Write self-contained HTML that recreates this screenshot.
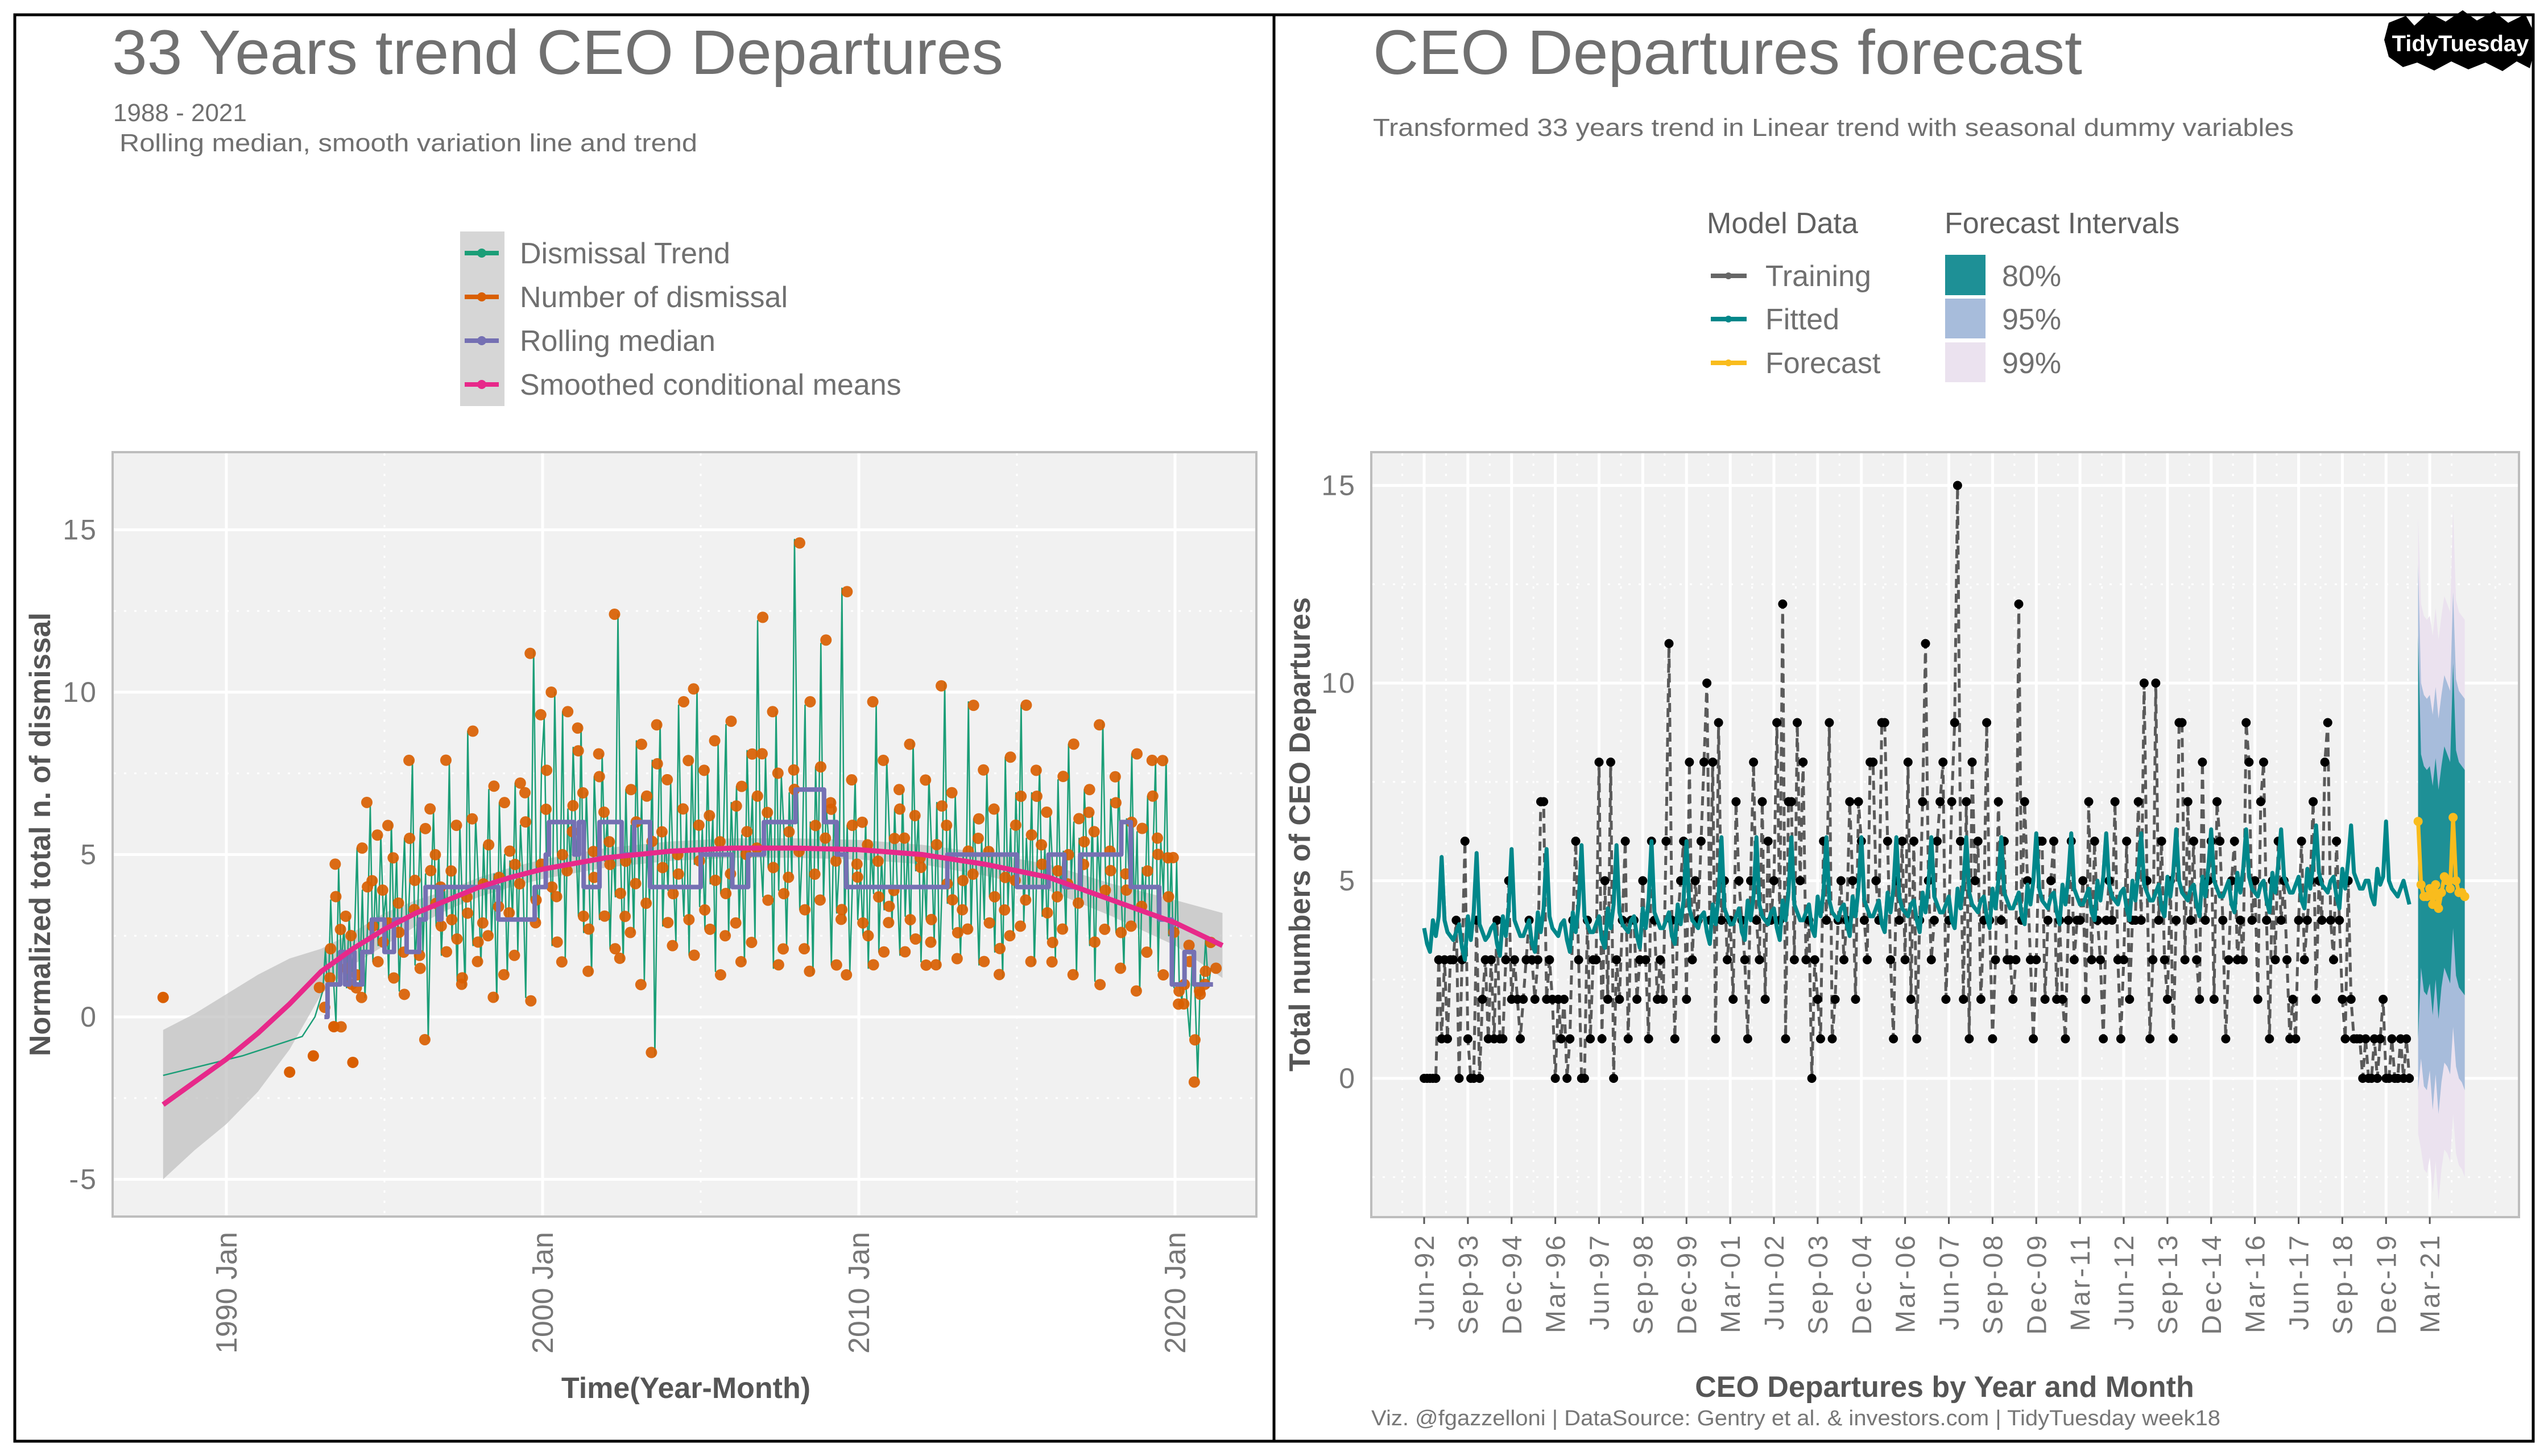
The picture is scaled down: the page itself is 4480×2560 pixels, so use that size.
<!DOCTYPE html>
<html><head><meta charset="utf-8">
<style>
html,body{margin:0;padding:0;background:#fff;}
svg{display:block;font-family:"Liberation Sans",sans-serif;}
</style></head>
<body>
<svg id="root" width="4480" height="2560" viewBox="0 0 4480 2560" xmlns="http://www.w3.org/2000/svg">
<rect x="0" y="0" width="4480" height="2560" fill="#fff"/>
<!-- panel frames -->
<rect x="26" y="26" width="2214" height="2508" fill="none" stroke="#000" stroke-width="5"/>
<rect x="2240" y="26" width="2214" height="2508" fill="none" stroke="#000" stroke-width="5"/>

<!-- LEFT TITLES -->
<text x="197" y="130" font-size="110" fill="#707070" textLength="1567" lengthAdjust="spacingAndGlyphs">33 Years trend CEO Departures</text>
<text x="199" y="213" font-size="44" fill="#707070">1988 - 2021</text>
<text x="210" y="266" font-size="44" fill="#707070" textLength="1016" lengthAdjust="spacingAndGlyphs">Rolling median, smooth variation line and trend</text>

<!-- LEFT LEGEND -->
<g>
<rect x="809" y="407" width="78" height="307" fill="#d6d6d6"/>
<g>
<line x1="817" y1="445" x2="877" y2="445" stroke="#1b9e77" stroke-width="8"/><circle cx="847" cy="445" r="8" fill="#1b9e77"/>
<text x="914" y="463" font-size="52" fill="#707070">Dismissal Trend</text></g>
<g>
<line x1="817" y1="522" x2="877" y2="522" stroke="#d95f02" stroke-width="8"/><circle cx="847" cy="522" r="8" fill="#d95f02"/>
<text x="914" y="540" font-size="52" fill="#707070">Number of dismissal</text></g>
<g>
<line x1="817" y1="599" x2="877" y2="599" stroke="#7570b3" stroke-width="8"/><circle cx="847" cy="599" r="8" fill="#7570b3"/>
<text x="914" y="617" font-size="52" fill="#707070">Rolling median</text></g>
<g>
<line x1="817" y1="676" x2="877" y2="676" stroke="#e7298a" stroke-width="8"/><circle cx="847" cy="676" r="8" fill="#e7298a"/>
<text x="914" y="694" font-size="52" fill="#707070">Smoothed conditional means</text></g>
</g>

<!-- LEFT PLOT -->
<rect x="198" y="795" width="2011" height="1344" fill="#f1f1f1" stroke="#bdbdbd" stroke-width="4"/>
<g id="leftGrid"></g>
<g id="leftMarks"></g>
<g id="leftAxes"></g>
<text transform="translate(88,1467) rotate(-90)" text-anchor="middle" font-size="52" font-weight="bold" fill="#555">Normalized total n. of dismissal</text>
<text x="1206" y="2458" text-anchor="middle" font-size="52" font-weight="bold" fill="#555">Time(Year-Month)</text>

<!-- RIGHT TITLES -->
<text x="2414" y="130" font-size="110" fill="#707070" textLength="1247" lengthAdjust="spacingAndGlyphs">CEO Departures forecast</text>
<text x="2414" y="239" font-size="44" fill="#707070" textLength="1619" lengthAdjust="spacingAndGlyphs">Transformed 33 years trend in Linear trend with seasonal dummy variables</text>

<!-- badge -->
<g>
<polygon points="4200,40 4230,28 4245,45 4270,22 4300,38 4330,18 4355,36 4385,20 4410,40 4440,25 4452,50 4456,90 4448,120 4425,108 4400,125 4370,110 4340,122 4310,108 4280,124 4250,110 4225,118 4200,100 4192,70" fill="#000"/>
<text x="4326" y="90" text-anchor="middle" font-size="40" font-weight="bold" fill="#fff">TidyTuesday</text>
</g>

<!-- RIGHT LEGEND -->
<g>
<text x="3001" y="410" font-size="52" fill="#606060">Model Data</text>
<text x="3419" y="410" font-size="52" fill="#606060">Forecast Intervals</text>
<g><line x1="3008" y1="485" x2="3071" y2="485" stroke="#666" stroke-width="8"/><circle cx="3039" cy="485" r="6" fill="#666"/><text x="3104" y="503" font-size="52" fill="#707070">Training</text></g>
<g><line x1="3008" y1="561" x2="3071" y2="561" stroke="#00878a" stroke-width="8"/><circle cx="3039" cy="561" r="6" fill="#00878a"/><text x="3104" y="579" font-size="52" fill="#707070">Fitted</text></g>
<g><line x1="3008" y1="638" x2="3071" y2="638" stroke="#f9bc1d" stroke-width="8"/><circle cx="3039" cy="638" r="6" fill="#f9bc1d"/><text x="3104" y="656" font-size="52" fill="#707070">Forecast</text></g>
<g><rect x="3420" y="448" width="71" height="71" fill="#1e9096"/><text x="3520" y="503" font-size="52" fill="#707070">80%</text></g>
<g><rect x="3420" y="525" width="71" height="70" fill="#a7bcdb"/><text x="3520" y="579" font-size="52" fill="#707070">95%</text></g>
<g><rect x="3420" y="602" width="71" height="70" fill="#ebe2ef"/><text x="3520" y="656" font-size="52" fill="#707070">99%</text></g>
</g>

<!-- RIGHT PLOT -->
<rect x="2411" y="795" width="2018" height="1345" fill="#f1f1f1" stroke="#bdbdbd" stroke-width="4"/>
<g id="rightGrid"></g>
<g id="rightMarks"></g>
<g id="rightAxes"></g>
<text transform="translate(2303,1467) rotate(-90)" text-anchor="middle" font-size="52" font-weight="bold" fill="#555">Total numbers of CEO Departures</text>
<text x="3419" y="2456" text-anchor="middle" font-size="52" font-weight="bold" fill="#555">CEO Departures by Year and Month</text>
<text x="2411" y="2506" font-size="38" fill="#777" textLength="1493" lengthAdjust="spacingAndGlyphs">Viz. @fgazzelloni | DataSource: Gentry et al. &amp; investors.com | TidyTuesday week18</text>
</svg>

<script>
// ---------- LEFT CHART DATA ----------
const leftYTicks = [-5, 0, 5, 10, 15];
const leftXTicks = [1990, 2000, 2010, 2020];
const leftXTickLabels = ["1990 Jan", "2000 Jan", "2010 Jan", "2020 Jan"];
const earlyDotYears = [1988.0, 1992.0, 1992.75, 1993.4, 1994.0];
const earlyDotValues = [0.6, -1.7, -1.2, -0.3, -1.4];
const earlyTrendYears = [1988.0, 1990.5, 1992.4, 1992.8];
const earlyTrendValues = [-1.8, -1.2, -0.6, 0.0];
const dismissalStart = 1993.05;
const dismissals = [
0.8,2.1,0.4,3.6,1.2,-0.2,4.6,1.5,2.8,0.9,3.1,1.4,
2.4,5.2,1.0,3.9,0.6,2.9,6.5,1.7,4.3,2.2,5.6,3.0,
3.8,1.2,6.0,2.5,4.9,0.8,3.4,5.5,2.1,4.1,7.9,1.6,
3.2,5.8,2.0,4.4,-0.7,3.6,6.3,2.8,5.1,1.9,4.0,3.1,
7.8,2.4,4.6,1.1,5.9,3.3,0.9,8.8,3.8,2.2,6.1,4.2,
1.6,5.3,3.0,7.0,2.5,4.4,0.5,6.6,3.5,5.0,1.3,4.8,
3.1,7.2,2.0,5.9,4.1,0.6,6.8,3.6,11.3,4.6,2.9,7.7,
9.2,4.0,6.5,2.2,10.0,5.1,3.6,9.4,1.8,6.4,4.5,8.3,
5.6,3.1,9.0,2.6,6.9,4.4,1.3,7.4,5.2,3.0,8.1,4.8,
6.2,2.1,5.5,3.7,12.4,4.9,1.7,7.0,3.2,5.9,2.6,8.5,
4.0,6.8,1.1,5.3,3.5,7.9,-1.2,4.6,9.1,2.8,5.7,3.9,
7.2,4.4,2.3,9.6,5.0,3.1,6.3,1.9,8.0,4.7,10.1,3.4,
5.8,2.7,7.7,4.1,6.2,1.4,8.4,3.8,5.5,9.0,2.5,6.6,
4.3,7.1,3.0,5.6,1.7,8.2,4.9,6.8,2.4,12.2,5.2,3.7,
8.0,4.6,6.4,1.5,9.4,3.9,7.4,5.7,2.2,6.9,4.3,14.7,
7.5,3.3,5.2,9.6,2.1,6.0,1.3,7.7,4.5,11.5,3.6,6.5,
5.4,1.6,6.7,3.2,4.8,13.2,2.9,5.9,1.4,4.2,7.3,3.0,
4.6,2.5,6.1,1.5,5.3,3.8,9.6,2.0,4.9,3.3,7.9,5.6,
2.8,6.4,4.0,1.9,7.0,3.1,5.4,2.4,8.5,4.5,6.2,1.7,
4.8,3.0,7.4,5.2,2.3,6.6,1.5,4.1,10.3,3.5,5.9,2.7,
6.8,4.2,1.9,5.0,3.3,9.7,2.6,6.1,4.5,1.6,5.5,3.0,
7.5,3.7,5.2,2.0,6.4,4.4,1.2,8.0,3.4,5.8,2.5,6.9,
4.1,9.6,2.9,5.5,3.6,6.9,1.6,4.7,7.7,3.1,5.3,2.4,
6.2,4.5,1.8,7.3,3.7,5.1,2.6,8.4,4.2,6.0,1.3,5.5,
3.4,7.0,4.8,2.2,6.3,1.1,5.6,3.9,9.1,4.4,2.7,6.7,
5.0,2.6,7.5,3.8,1.5,6.1,4.3,8.1,2.9,5.7,0.8,4.6,
3.3,6.8,2.1,4.9,7.9,1.4,5.4,3.7,8.0,2.5,4.9,0.9,
4.8,1.0,0.5,1.6,0.4,-0.6,2.1,0.7,-1.9,1.3,0.8,2.4,
0.9,1.5];
const medianYears = [1993.1,1993.2,1993.6,1993.75,1993.9,1994.05,1994.3,1994.6,1995.0,1995.3,1995.7,1996.1,1996.3,1996.7,1996.8,1998.6,1999.75,2000.1,2000.2,2001.0,2001.15,2001.3,2001.8,2002.5,2002.9,2003.4,2004.3,2005.0,2006.0,2006.5,2007.0,2008.0,2008.9,2009.3,2009.6,2012.0,2012.8,2015.0,2016.0,2016.5,2017.0,2018.0,2018.3,2018.6,2019.5,2019.9,2020.3,2020.6,2021.2];
const medianValues = [0,1,2,1,2,1,2,3,2,3,2,3,4,3,4,3,4,5,6,5,6,4,6,5,6,4,4,5,4,5,6,7,6,5,4,4,5,4,5,4,5,5,6,4,3,1,2,1,1];
const smoothYears = [1988,1989,1990,1991,1992,1993,1994,1995,1996,1997,1998,1999,2000,2002,2004,2006,2008,2010,2012,2014,2016,2018,2020,2021.5];
const smoothValues = [-2.7,-2.0,-1.3,-0.5,0.4,1.4,2.1,2.7,3.2,3.6,4.0,4.3,4.55,4.9,5.1,5.2,5.2,5.15,5.0,4.7,4.3,3.6,2.9,2.2];
const smoothLower = [-5.0,-4.1,-3.3,-2.3,-1.0,0.7,1.6,2.2,2.8,3.3,3.7,4.0,4.25,4.6,4.8,4.9,4.9,4.85,4.7,4.35,3.9,3.1,2.2,1.2];
const smoothUpper = [-0.4,0.1,0.7,1.3,1.8,2.1,2.6,3.2,3.6,3.9,4.3,4.6,4.85,5.2,5.4,5.5,5.5,5.45,5.3,5.05,4.7,4.1,3.6,3.2];

// ---------- RIGHT CHART DATA ----------
const rightYTicks = [0, 5, 10, 15];
const rightXTickLabels = ["Jun-92","Sep-93","Dec-94","Mar-96","Jun-97","Sep-98","Dec-99","Mar-01","Jun-02","Sep-03","Dec-04","Mar-06","Jun-07","Sep-08","Dec-09","Mar-11","Jun-12","Sep-13","Dec-14","Mar-16","Jun-17","Sep-18","Dec-19","Mar-21"];
const training = [
0,0,0,0,0,3,1,3,1,3,3,4,
0,3,6,1,0,0,4,0,2,3,1,3,
1,4,1,1,3,5,2,3,2,1,2,3,
4,3,2,3,7,7,2,3,2,0,2,1,
2,0,1,4,6,3,0,0,4,1,3,3,
8,1,5,2,8,0,3,2,4,6,1,4,
4,2,3,5,3,1,6,4,2,3,2,6,
11,4,1,4,5,6,2,8,3,5,4,6,
8,10,4,8,1,9,4,5,3,4,2,7,
5,4,3,1,5,8,4,3,7,2,6,4,
5,9,4,12,1,7,7,3,9,5,8,3,
4,0,3,2,1,6,4,9,1,2,4,5,
3,4,7,5,2,7,6,4,3,8,8,5,
4,9,9,6,3,1,5,4,6,3,8,2,
6,1,4,7,11,5,3,4,6,7,8,2,
4,7,9,15,6,2,7,1,8,5,6,2,
4,9,4,1,3,7,4,6,3,3,2,3,
12,4,7,5,3,1,3,6,6,2,4,5,
6,2,4,2,1,4,6,3,4,4,5,2,
7,3,6,4,3,1,4,5,4,7,3,1,
3,6,2,4,4,7,4,10,5,1,3,10,
4,6,3,2,5,1,4,9,9,3,7,4,
6,3,2,8,4,5,6,2,7,6,4,1,
3,5,6,3,4,3,9,8,4,5,2,7,
8,4,1,5,3,6,4,5,3,1,2,1,
4,6,3,4,5,7,2,5,4,8,9,4,
3,6,4,2,1,5,
2,1,1,1,0,1,0,0,1,0,1,2,0,0,1,0,0,1,0,1,0];
const fitted = [
3.8,3.4,3.2,4.0,3.6,4.1,5.6,4.0,3.7,3.6,3.5,3.7,
3.9,3.3,3.0,4.1,3.5,4.2,5.7,3.9,3.7,3.5,3.6,3.8,
3.9,3.4,3.1,4.1,3.6,4.3,5.8,4.0,3.8,3.6,3.6,3.8,
4.0,3.4,3.2,4.2,3.7,4.3,5.8,4.1,3.8,3.7,3.6,3.9,
4.0,3.5,3.2,4.2,3.7,4.4,5.9,4.1,3.9,3.7,3.7,3.9,
4.1,3.5,3.3,4.3,3.8,4.4,5.9,4.2,3.9,3.8,3.7,4.0,
4.1,3.6,3.3,4.3,3.8,4.5,6.0,4.2,4.0,3.8,3.8,4.0,
4.2,3.6,3.4,4.4,3.9,4.5,6.0,4.3,4.0,3.9,3.8,4.1,
4.2,3.7,3.4,4.4,3.9,4.6,6.1,4.3,4.1,3.9,3.9,4.1,
4.3,3.7,3.5,4.5,4.0,4.6,6.1,4.4,4.1,4.0,3.9,4.2,
4.3,3.8,3.5,4.5,4.0,4.7,6.1,4.4,4.2,4.0,4.0,4.2,
4.4,3.8,3.6,4.6,4.1,4.7,6.1,4.5,4.2,4.1,4.0,4.3,
4.4,3.9,3.6,4.6,4.1,4.8,6.1,4.5,4.3,4.1,4.1,4.3,
4.5,3.9,3.7,4.7,4.2,4.8,6.1,4.6,4.3,4.2,4.1,4.4,
4.5,4.0,3.7,4.7,4.2,4.9,6.1,4.6,4.4,4.2,4.2,4.4,
4.6,4.0,3.8,4.8,4.3,4.9,6.1,4.7,4.4,4.3,4.2,4.5,
4.6,4.1,3.8,4.8,4.3,5.0,6.1,4.7,4.5,4.3,4.3,4.5,
4.7,4.1,3.9,4.9,4.4,5.0,6.2,4.8,4.5,4.4,4.3,4.6,
4.7,4.2,3.9,4.9,4.4,5.1,6.2,4.8,4.6,4.4,4.4,4.6,
4.8,4.2,4.0,5.0,4.5,5.1,6.2,4.9,4.6,4.5,4.4,4.7,
4.8,4.3,4.0,5.0,4.5,5.2,6.2,4.9,4.7,4.5,4.5,4.7,
4.9,4.3,4.1,5.1,4.6,5.2,6.3,5.0,4.7,4.6,4.5,4.8,
4.9,4.4,4.1,5.1,4.6,5.3,6.3,5.0,4.8,4.6,4.6,4.8,
5.0,4.4,4.2,5.2,4.7,5.3,6.3,5.1,4.8,4.7,4.6,4.9,
5.0,4.5,4.2,5.2,4.7,5.4,6.3,5.1,4.9,4.7,4.7,4.9,
5.1,4.5,4.3,5.3,4.8,5.4,6.4,5.2,4.9,4.8,4.7,5.0,
5.1,4.6,4.3,5.3,4.8,5.5,6.4,5.2,5.0,4.8,4.8,5.0,
5.0,4.6,4.4,5.3,4.9,5.1,6.5,5.0,4.8,4.7,4.6,4.8,
5.0,4.7,4.4];
const forecastStart = 341;
const forecast = [6.5,4.9,4.6,4.6,4.8,4.4,4.9,4.3,4.7,5.1,5.0,4.8,6.6,5.0,4.7,4.7,4.6];
const lo80 = [1.0,2.8,2.2,2.1,2.4,1.6,2.5,1.5,2.3,2.8,2.6,2.4,3.8,2.6,2.3,2.2,2.1];
const hi80 = [11.2,8.2,7.9,7.8,7.9,7.4,8.1,7.3,7.9,8.4,8.2,8.0,10.5,8.3,8.0,7.9,7.8];
const lo95 = [-0.3,0.5,-0.2,-0.3,0.2,-0.8,0.1,-0.9,-0.1,0.4,0.3,0.1,1.3,0.3,0.0,-0.1,-0.3];
const hi95 = [13.0,10.0,9.7,9.6,9.7,9.2,9.9,9.1,9.7,10.2,10.0,9.8,12.3,10.1,9.8,9.7,9.6];
const lo99 = [-1.4,-1.8,-2.3,-2.4,-2.0,-2.9,-2.1,-3.1,-2.3,-1.8,-1.9,-2.1,-0.9,-1.9,-2.2,-2.3,-2.5];
const hi99 = [14.2,12.0,11.7,11.6,11.7,11.2,11.9,11.1,11.7,12.2,12.0,11.8,14.4,12.1,11.8,11.7,11.6];

// ---------- helpers ----------
const NS = "http://www.w3.org/2000/svg";
function mk(tag, attrs, parent) {
  const el = document.createElementNS(NS, tag);
  for (const k in attrs) el.setAttribute(k, attrs[k]);
  parent.appendChild(el);
  return el;
}
// left axis functions
const lx = yr => 398 + (yr - 1990) * 55.6;
const ly = v => 1788 - v * 57.1;
// right axis functions
const rx = i => 2504 + i * 5.125;
const ry = v => 1896 - v * 69.5;

// ---------- LEFT GRID & AXES ----------
const lg = document.getElementById('leftGrid');
const la = document.getElementById('leftAxes');
[-2.5, 2.5, 7.5, 12.5].forEach(v => {
  const l = mk('line', {x1:200, x2:2207, y1:ly(v), y2:ly(v), stroke:'#fff', 'stroke-width':3, 'stroke-dasharray':'4 14'}, lg);
  
  
});
[1995, 2005, 2015].forEach(v => {
  const l = mk('line', {x1:lx(v), x2:lx(v), y1:797, y2:2137, stroke:'#fff', 'stroke-width':3, 'stroke-dasharray':'4 14'}, lg);
  
  
});
leftYTicks.forEach(v => {
  const l = mk('line', {x1:200, x2:2207, y1:ly(v), y2:ly(v), stroke:'#fff', 'stroke-width':5}, lg);
  
  
  const t = mk('text', {x:172, y:ly(v)+17, 'text-anchor':'end', 'font-size':50, fill:'#777', 'letter-spacing':'3'}, la);
  t.textContent = String(v);
  
  
});
leftXTicks.forEach((v, i) => {
  const l = mk('line', {x1:lx(v), x2:lx(v), y1:797, y2:2137, stroke:'#fff', 'stroke-width':5}, lg);
  
  
  const t = mk('text', {transform:`translate(${lx(v)+18},2166) rotate(-90)`, 'text-anchor':'end', 'font-size':52, fill:'#777'}, la);
  t.textContent = leftXTickLabels[i];
  
  
});

// ---------- LEFT MARKS ----------
const lm = document.getElementById('leftMarks');
// confidence band
let bandPts = smoothYears.map((y, i) => `${lx(y)},${ly(smoothUpper[i])}`);
for (let i = smoothYears.length - 1; i >= 0; i--) bandPts.push(`${lx(smoothYears[i])},${ly(smoothLower[i])}`);
const band = mk('polygon', {points: bandPts.join(' '), fill:'#bdbdbd', 'fill-opacity':0.7}, lm);


// trend line (green)
const dYears = dismissals.map((_, i) => dismissalStart + i / 12);
let trendPts = earlyTrendYears.map((y, i) => `${lx(y)},${ly(earlyTrendValues[i])}`);
trendPts = trendPts.concat(dismissals.map((v, i) => `${lx(dYears[i])},${ly(v)}`));
const trend = mk('polyline', {points: trendPts.join(' '), fill:'none', stroke:'#1b9e77', 'stroke-width':2.5, 'stroke-linejoin':'round'}, lm);


// dots
earlyDotYears.forEach((y, i) => {
  const c = mk('circle', {cx:lx(y), cy:ly(earlyDotValues[i]), r:10, fill:'#d95f02'}, lm);
  
  
});
dismissals.forEach((v, i) => {
  const c = mk('circle', {cx:lx(dYears[i]) + ((i % 2) ? 9 : -6), cy:ly(v) + ((i % 3) - 1) * 6, r:10, fill:'#d95f02', 'fill-opacity':0.92}, lm);
  
  
});
// rolling median step
let medPath = `M${lx(medianYears[0])},${ly(medianValues[0])}`;
for (let i = 1; i < medianYears.length; i++) {
  medPath += ` H${lx(medianYears[i])} V${ly(medianValues[i])}`;
}
const med = mk('path', {d: medPath, fill:'none', stroke:'#7570b3', 'stroke-width':8, 'stroke-linejoin':'round'}, lm);


// smooth line
const sm = mk('polyline', {points: smoothYears.map((y, i) => `${lx(y)},${ly(smoothValues[i])}`).join(' '), fill:'none', stroke:'#e7298a', 'stroke-width':9, 'stroke-linejoin':'round'}, lm);



// ---------- RIGHT GRID & AXES ----------
const rg = document.getElementById('rightGrid');
const ra = document.getElementById('rightAxes');
[-2.5, 2.5, 7.5, 12.5].forEach(v => {
  const l = mk('line', {x1:2413, x2:4427, y1:ry(v), y2:ry(v), stroke:'#fff', 'stroke-width':3, 'stroke-dasharray':'4 14'}, rg);
  
  
});
for (let k = -1; k <= rightXTickLabels.length; k++) {
  const x = rx(k * 15 + 7.5);
  if (x < 2413 || x > 4427) continue;
  const l = mk('line', {x1:x, x2:x, y1:797, y2:2138, stroke:'#fff', 'stroke-width':3, 'stroke-dasharray':'4 14'}, rg);
  
  
}
rightYTicks.forEach(v => {
  const l = mk('line', {x1:2413, x2:4427, y1:ry(v), y2:ry(v), stroke:'#fff', 'stroke-width':5}, rg);
  
  
  const t = mk('text', {x:2385, y:ry(v)+17, 'text-anchor':'end', 'font-size':50, fill:'#777', 'letter-spacing':'3'}, ra);
  t.textContent = String(v);
  
  
});
rightXTickLabels.forEach((lab, k) => {
  const x = rx(k * 15);
  const l = mk('line', {x1:x, x2:x, y1:797, y2:2138, stroke:'#fff', 'stroke-width':5}, rg);
  
  
  const tk = mk('line', {x1:x, x2:x, y1:2140, y2:2152, stroke:'#555', 'stroke-width':3}, ra);
  
  
  const t = mk('text', {transform:`translate(${x+17},2168) rotate(-90)`, 'text-anchor':'end', 'font-size':48, fill:'#777', 'letter-spacing':'4'}, ra);
  t.textContent = lab;
  
  
});

// ---------- RIGHT MARKS ----------
const rm = document.getElementById('rightMarks');
function bandPoly(lo, hi, color, name) {
  let pts = hi.map((v, i) => `${rx(forecastStart + i)},${ry(v)}`);
  for (let i = lo.length - 1; i >= 0; i--) pts.push(`${rx(forecastStart + i)},${ry(lo[i])}`);
  const p = mk('polygon', {points: pts.join(' '), fill: color}, rm);
  return p;
}
const b99 = bandPoly(lo99, hi99, '#ebe2ef');


const b95 = bandPoly(lo95, hi95, '#a7bcdb');


const b80 = bandPoly(lo80, hi80, '#1e9096');



const trainLine = mk('polyline', {points: training.map((v, i) => `${rx(i)},${ry(v)}`).join(' '), fill:'none', stroke:'#5a5a5a', 'stroke-width':5, 'stroke-dasharray':'16 10'}, rm);


training.forEach((v, i) => {
  const c = mk('circle', {cx:rx(i), cy:ry(v), r:8, fill:'#000'}, rm);
  
  
});
const fitLine = mk('polyline', {points: fitted.map((v, i) => `${rx(i)},${ry(v)}`).join(' '), fill:'none', stroke:'#00878a', 'stroke-width':7, 'stroke-linejoin':'round'}, rm);


const fcLine = mk('polyline', {points: forecast.map((v, i) => `${rx(forecastStart + i)},${ry(v)}`).join(' '), fill:'none', stroke:'#f9bc1d', 'stroke-width':7, 'stroke-linejoin':'round'}, rm);


forecast.forEach((v, i) => {
  const c = mk('circle', {cx:rx(forecastStart + i), cy:ry(v), r:8, fill:'#f9bc1d'}, rm);
  
  
});
</script>
</body></html>
